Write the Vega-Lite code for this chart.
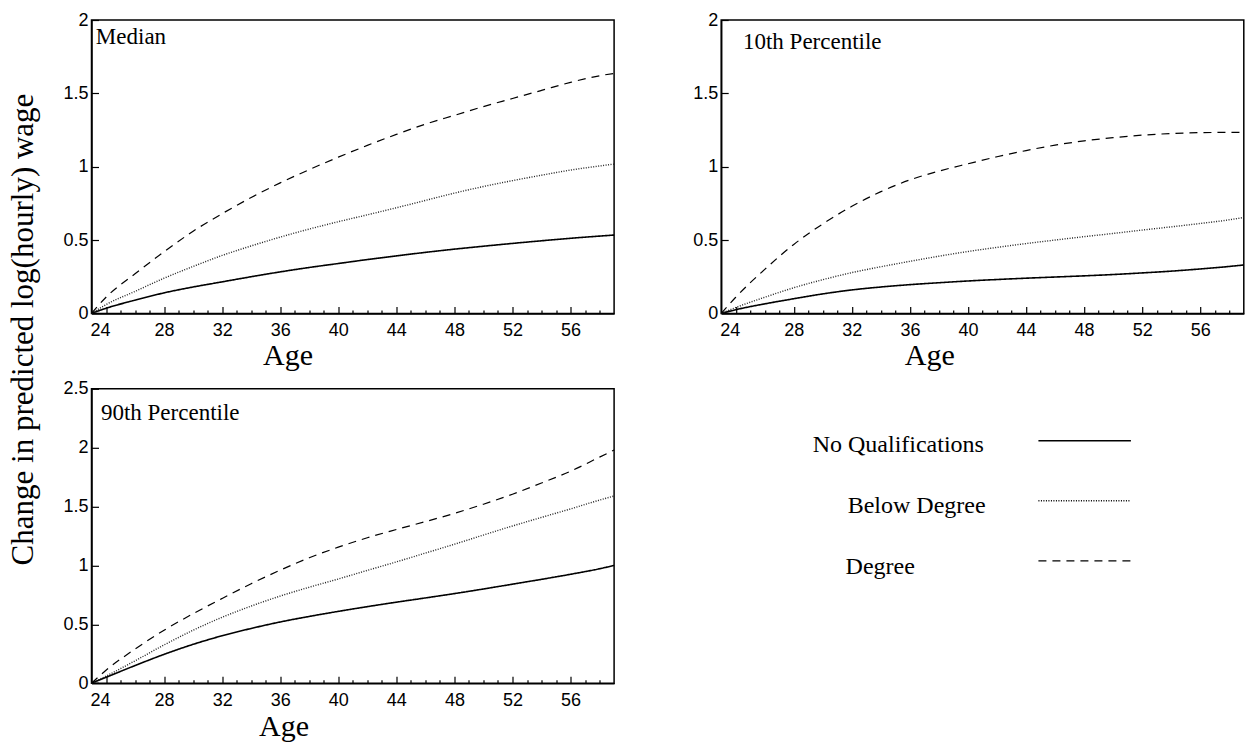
{
  "$schema": "https://vega.github.io/schema/vega-lite/v6.json",
  "background": "white",
  "padding": {"left": 6.5, "top": 10, "right": 5, "bottom": 5},
  "columns": 2,
  "spacing": {"row": 74.8, "column": 106.7},
  "bounds": "flush",
  "config": {
    "view": {"stroke": "black", "strokeWidth": 1.5},
    "axis": {
      "grid": false,
      "domainColor": "black",
      "domainWidth": 1.5,
      "tickColor": "black",
      "tickWidth": 1.2,
      "labelFont": "Liberation Sans",
      "labelFontSize": 18,
      "labelColor": "black",
      "titleFont": "Liberation Serif",
      "titleFontWeight": "normal",
      "titleColor": "black"
    }
  },
  "datasets": {
    "curves": [
      {"panel": "Median", "series": "No Qualifications", "age": 23, "change": 0},
      {"panel": "Median", "series": "No Qualifications", "age": 24, "change": 0.035},
      {"panel": "Median", "series": "No Qualifications", "age": 26, "change": 0.09},
      {"panel": "Median", "series": "No Qualifications", "age": 28, "change": 0.14},
      {"panel": "Median", "series": "No Qualifications", "age": 30, "change": 0.18},
      {"panel": "Median", "series": "No Qualifications", "age": 32, "change": 0.215},
      {"panel": "Median", "series": "No Qualifications", "age": 34, "change": 0.25},
      {"panel": "Median", "series": "No Qualifications", "age": 36, "change": 0.283},
      {"panel": "Median", "series": "No Qualifications", "age": 38, "change": 0.313},
      {"panel": "Median", "series": "No Qualifications", "age": 40, "change": 0.34},
      {"panel": "Median", "series": "No Qualifications", "age": 42, "change": 0.367},
      {"panel": "Median", "series": "No Qualifications", "age": 44, "change": 0.392},
      {"panel": "Median", "series": "No Qualifications", "age": 46, "change": 0.416},
      {"panel": "Median", "series": "No Qualifications", "age": 48, "change": 0.438},
      {"panel": "Median", "series": "No Qualifications", "age": 50, "change": 0.458},
      {"panel": "Median", "series": "No Qualifications", "age": 52, "change": 0.477},
      {"panel": "Median", "series": "No Qualifications", "age": 54, "change": 0.495},
      {"panel": "Median", "series": "No Qualifications", "age": 56, "change": 0.512},
      {"panel": "Median", "series": "No Qualifications", "age": 58, "change": 0.527},
      {"panel": "Median", "series": "No Qualifications", "age": 59, "change": 0.534},
      {"panel": "Median", "series": "Below Degree", "age": 23, "change": 0},
      {"panel": "Median", "series": "Below Degree", "age": 24, "change": 0.06},
      {"panel": "Median", "series": "Below Degree", "age": 26, "change": 0.15},
      {"panel": "Median", "series": "Below Degree", "age": 28, "change": 0.24},
      {"panel": "Median", "series": "Below Degree", "age": 30, "change": 0.32},
      {"panel": "Median", "series": "Below Degree", "age": 32, "change": 0.395},
      {"panel": "Median", "series": "Below Degree", "age": 34, "change": 0.46},
      {"panel": "Median", "series": "Below Degree", "age": 36, "change": 0.52},
      {"panel": "Median", "series": "Below Degree", "age": 38, "change": 0.575},
      {"panel": "Median", "series": "Below Degree", "age": 40, "change": 0.625},
      {"panel": "Median", "series": "Below Degree", "age": 42, "change": 0.672},
      {"panel": "Median", "series": "Below Degree", "age": 44, "change": 0.72},
      {"panel": "Median", "series": "Below Degree", "age": 46, "change": 0.77},
      {"panel": "Median", "series": "Below Degree", "age": 48, "change": 0.82},
      {"panel": "Median", "series": "Below Degree", "age": 50, "change": 0.865},
      {"panel": "Median", "series": "Below Degree", "age": 52, "change": 0.905},
      {"panel": "Median", "series": "Below Degree", "age": 54, "change": 0.942},
      {"panel": "Median", "series": "Below Degree", "age": 56, "change": 0.977},
      {"panel": "Median", "series": "Below Degree", "age": 58, "change": 1.005},
      {"panel": "Median", "series": "Below Degree", "age": 59, "change": 1.018},
      {"panel": "Median", "series": "Degree", "age": 23, "change": 0},
      {"panel": "Median", "series": "Degree", "age": 24, "change": 0.11},
      {"panel": "Median", "series": "Degree", "age": 26, "change": 0.27},
      {"panel": "Median", "series": "Degree", "age": 28, "change": 0.42},
      {"panel": "Median", "series": "Degree", "age": 30, "change": 0.56},
      {"panel": "Median", "series": "Degree", "age": 32, "change": 0.68},
      {"panel": "Median", "series": "Degree", "age": 34, "change": 0.79},
      {"panel": "Median", "series": "Degree", "age": 36, "change": 0.89},
      {"panel": "Median", "series": "Degree", "age": 38, "change": 0.98},
      {"panel": "Median", "series": "Degree", "age": 40, "change": 1.065},
      {"panel": "Median", "series": "Degree", "age": 42, "change": 1.145},
      {"panel": "Median", "series": "Degree", "age": 44, "change": 1.22},
      {"panel": "Median", "series": "Degree", "age": 46, "change": 1.29},
      {"panel": "Median", "series": "Degree", "age": 48, "change": 1.35},
      {"panel": "Median", "series": "Degree", "age": 50, "change": 1.41},
      {"panel": "Median", "series": "Degree", "age": 52, "change": 1.465},
      {"panel": "Median", "series": "Degree", "age": 54, "change": 1.52},
      {"panel": "Median", "series": "Degree", "age": 56, "change": 1.575},
      {"panel": "Median", "series": "Degree", "age": 58, "change": 1.62},
      {"panel": "Median", "series": "Degree", "age": 59, "change": 1.636},
      {"panel": "10th Percentile", "series": "No Qualifications", "age": 23, "change": 0},
      {"panel": "10th Percentile", "series": "No Qualifications", "age": 24, "change": 0.025},
      {"panel": "10th Percentile", "series": "No Qualifications", "age": 26, "change": 0.065},
      {"panel": "10th Percentile", "series": "No Qualifications", "age": 28, "change": 0.1},
      {"panel": "10th Percentile", "series": "No Qualifications", "age": 30, "change": 0.133},
      {"panel": "10th Percentile", "series": "No Qualifications", "age": 32, "change": 0.16},
      {"panel": "10th Percentile", "series": "No Qualifications", "age": 34, "change": 0.18},
      {"panel": "10th Percentile", "series": "No Qualifications", "age": 36, "change": 0.196},
      {"panel": "10th Percentile", "series": "No Qualifications", "age": 38, "change": 0.209},
      {"panel": "10th Percentile", "series": "No Qualifications", "age": 40, "change": 0.221},
      {"panel": "10th Percentile", "series": "No Qualifications", "age": 42, "change": 0.231},
      {"panel": "10th Percentile", "series": "No Qualifications", "age": 44, "change": 0.24},
      {"panel": "10th Percentile", "series": "No Qualifications", "age": 46, "change": 0.248},
      {"panel": "10th Percentile", "series": "No Qualifications", "age": 48, "change": 0.256},
      {"panel": "10th Percentile", "series": "No Qualifications", "age": 50, "change": 0.265},
      {"panel": "10th Percentile", "series": "No Qualifications", "age": 52, "change": 0.276},
      {"panel": "10th Percentile", "series": "No Qualifications", "age": 54, "change": 0.288},
      {"panel": "10th Percentile", "series": "No Qualifications", "age": 56, "change": 0.303},
      {"panel": "10th Percentile", "series": "No Qualifications", "age": 58, "change": 0.32},
      {"panel": "10th Percentile", "series": "No Qualifications", "age": 59, "change": 0.33},
      {"panel": "10th Percentile", "series": "Below Degree", "age": 23, "change": 0},
      {"panel": "10th Percentile", "series": "Below Degree", "age": 24, "change": 0.04},
      {"panel": "10th Percentile", "series": "Below Degree", "age": 26, "change": 0.11},
      {"panel": "10th Percentile", "series": "Below Degree", "age": 28, "change": 0.175},
      {"panel": "10th Percentile", "series": "Below Degree", "age": 30, "change": 0.23},
      {"panel": "10th Percentile", "series": "Below Degree", "age": 32, "change": 0.278},
      {"panel": "10th Percentile", "series": "Below Degree", "age": 34, "change": 0.318},
      {"panel": "10th Percentile", "series": "Below Degree", "age": 36, "change": 0.355},
      {"panel": "10th Percentile", "series": "Below Degree", "age": 38, "change": 0.39},
      {"panel": "10th Percentile", "series": "Below Degree", "age": 40, "change": 0.422},
      {"panel": "10th Percentile", "series": "Below Degree", "age": 42, "change": 0.45},
      {"panel": "10th Percentile", "series": "Below Degree", "age": 44, "change": 0.476},
      {"panel": "10th Percentile", "series": "Below Degree", "age": 46, "change": 0.5},
      {"panel": "10th Percentile", "series": "Below Degree", "age": 48, "change": 0.523},
      {"panel": "10th Percentile", "series": "Below Degree", "age": 50, "change": 0.545},
      {"panel": "10th Percentile", "series": "Below Degree", "age": 52, "change": 0.568},
      {"panel": "10th Percentile", "series": "Below Degree", "age": 54, "change": 0.59},
      {"panel": "10th Percentile", "series": "Below Degree", "age": 56, "change": 0.613},
      {"panel": "10th Percentile", "series": "Below Degree", "age": 58, "change": 0.638},
      {"panel": "10th Percentile", "series": "Below Degree", "age": 59, "change": 0.654},
      {"panel": "10th Percentile", "series": "Degree", "age": 23, "change": 0},
      {"panel": "10th Percentile", "series": "Degree", "age": 24, "change": 0.11},
      {"panel": "10th Percentile", "series": "Degree", "age": 26, "change": 0.3},
      {"panel": "10th Percentile", "series": "Degree", "age": 28, "change": 0.47},
      {"panel": "10th Percentile", "series": "Degree", "age": 30, "change": 0.61},
      {"panel": "10th Percentile", "series": "Degree", "age": 32, "change": 0.73},
      {"panel": "10th Percentile", "series": "Degree", "age": 34, "change": 0.83},
      {"panel": "10th Percentile", "series": "Degree", "age": 36, "change": 0.91},
      {"panel": "10th Percentile", "series": "Degree", "age": 38, "change": 0.97},
      {"panel": "10th Percentile", "series": "Degree", "age": 40, "change": 1.02},
      {"panel": "10th Percentile", "series": "Degree", "age": 42, "change": 1.068},
      {"panel": "10th Percentile", "series": "Degree", "age": 44, "change": 1.11},
      {"panel": "10th Percentile", "series": "Degree", "age": 46, "change": 1.147},
      {"panel": "10th Percentile", "series": "Degree", "age": 48, "change": 1.176},
      {"panel": "10th Percentile", "series": "Degree", "age": 50, "change": 1.198},
      {"panel": "10th Percentile", "series": "Degree", "age": 52, "change": 1.215},
      {"panel": "10th Percentile", "series": "Degree", "age": 54, "change": 1.226},
      {"panel": "10th Percentile", "series": "Degree", "age": 56, "change": 1.232},
      {"panel": "10th Percentile", "series": "Degree", "age": 58, "change": 1.234},
      {"panel": "10th Percentile", "series": "Degree", "age": 59, "change": 1.234},
      {"panel": "90th Percentile", "series": "No Qualifications", "age": 23, "change": 0},
      {"panel": "90th Percentile", "series": "No Qualifications", "age": 24, "change": 0.05},
      {"panel": "90th Percentile", "series": "No Qualifications", "age": 26, "change": 0.15},
      {"panel": "90th Percentile", "series": "No Qualifications", "age": 28, "change": 0.245},
      {"panel": "90th Percentile", "series": "No Qualifications", "age": 30, "change": 0.33},
      {"panel": "90th Percentile", "series": "No Qualifications", "age": 32, "change": 0.403},
      {"panel": "90th Percentile", "series": "No Qualifications", "age": 34, "change": 0.465},
      {"panel": "90th Percentile", "series": "No Qualifications", "age": 36, "change": 0.52},
      {"panel": "90th Percentile", "series": "No Qualifications", "age": 38, "change": 0.567},
      {"panel": "90th Percentile", "series": "No Qualifications", "age": 40, "change": 0.61},
      {"panel": "90th Percentile", "series": "No Qualifications", "age": 42, "change": 0.65},
      {"panel": "90th Percentile", "series": "No Qualifications", "age": 44, "change": 0.688},
      {"panel": "90th Percentile", "series": "No Qualifications", "age": 46, "change": 0.724},
      {"panel": "90th Percentile", "series": "No Qualifications", "age": 48, "change": 0.761},
      {"panel": "90th Percentile", "series": "No Qualifications", "age": 50, "change": 0.8},
      {"panel": "90th Percentile", "series": "No Qualifications", "age": 52, "change": 0.841},
      {"panel": "90th Percentile", "series": "No Qualifications", "age": 54, "change": 0.882},
      {"panel": "90th Percentile", "series": "No Qualifications", "age": 56, "change": 0.925},
      {"panel": "90th Percentile", "series": "No Qualifications", "age": 58, "change": 0.972},
      {"panel": "90th Percentile", "series": "No Qualifications", "age": 59, "change": 1.0},
      {"panel": "90th Percentile", "series": "Below Degree", "age": 23, "change": 0},
      {"panel": "90th Percentile", "series": "Below Degree", "age": 24, "change": 0.06},
      {"panel": "90th Percentile", "series": "Below Degree", "age": 26, "change": 0.19},
      {"panel": "90th Percentile", "series": "Below Degree", "age": 28, "change": 0.325},
      {"panel": "90th Percentile", "series": "Below Degree", "age": 30, "change": 0.45},
      {"panel": "90th Percentile", "series": "Below Degree", "age": 32, "change": 0.56},
      {"panel": "90th Percentile", "series": "Below Degree", "age": 34, "change": 0.655},
      {"panel": "90th Percentile", "series": "Below Degree", "age": 36, "change": 0.74},
      {"panel": "90th Percentile", "series": "Below Degree", "age": 38, "change": 0.815},
      {"panel": "90th Percentile", "series": "Below Degree", "age": 40, "change": 0.885},
      {"panel": "90th Percentile", "series": "Below Degree", "age": 42, "change": 0.958},
      {"panel": "90th Percentile", "series": "Below Degree", "age": 44, "change": 1.03},
      {"panel": "90th Percentile", "series": "Below Degree", "age": 46, "change": 1.105},
      {"panel": "90th Percentile", "series": "Below Degree", "age": 48, "change": 1.18},
      {"panel": "90th Percentile", "series": "Below Degree", "age": 50, "change": 1.258},
      {"panel": "90th Percentile", "series": "Below Degree", "age": 52, "change": 1.335},
      {"panel": "90th Percentile", "series": "Below Degree", "age": 54, "change": 1.408},
      {"panel": "90th Percentile", "series": "Below Degree", "age": 56, "change": 1.48},
      {"panel": "90th Percentile", "series": "Below Degree", "age": 58, "change": 1.555},
      {"panel": "90th Percentile", "series": "Below Degree", "age": 59, "change": 1.59},
      {"panel": "90th Percentile", "series": "Degree", "age": 23, "change": 0},
      {"panel": "90th Percentile", "series": "Degree", "age": 24, "change": 0.11},
      {"panel": "90th Percentile", "series": "Degree", "age": 26, "change": 0.29},
      {"panel": "90th Percentile", "series": "Degree", "age": 28, "change": 0.45},
      {"panel": "90th Percentile", "series": "Degree", "age": 30, "change": 0.59},
      {"panel": "90th Percentile", "series": "Degree", "age": 32, "change": 0.72},
      {"panel": "90th Percentile", "series": "Degree", "age": 34, "change": 0.845},
      {"panel": "90th Percentile", "series": "Degree", "age": 36, "change": 0.96},
      {"panel": "90th Percentile", "series": "Degree", "age": 38, "change": 1.065},
      {"panel": "90th Percentile", "series": "Degree", "age": 40, "change": 1.155},
      {"panel": "90th Percentile", "series": "Degree", "age": 42, "change": 1.235},
      {"panel": "90th Percentile", "series": "Degree", "age": 44, "change": 1.305},
      {"panel": "90th Percentile", "series": "Degree", "age": 46, "change": 1.372},
      {"panel": "90th Percentile", "series": "Degree", "age": 48, "change": 1.442},
      {"panel": "90th Percentile", "series": "Degree", "age": 50, "change": 1.52},
      {"panel": "90th Percentile", "series": "Degree", "age": 52, "change": 1.605},
      {"panel": "90th Percentile", "series": "Degree", "age": 54, "change": 1.7},
      {"panel": "90th Percentile", "series": "Degree", "age": 56, "change": 1.8},
      {"panel": "90th Percentile", "series": "Degree", "age": 58, "change": 1.92},
      {"panel": "90th Percentile", "series": "Degree", "age": 59, "change": 1.98}
    ],
    "legendRows": [
      {"series": "No Qualifications"},
      {"series": "Below Degree"},
      {"series": "Degree"}
    ]
  },
  "concat": [
    {
      "width": 522.6,
      "height": 293.4,
      "resolve": {"axis": {"x": "independent"}},
      "layer": [
        {
          "data": {"name": "curves"},
          "transform": [{"filter": "datum.panel === 'Median'"}],
          "mark": {"type": "line", "interpolate": "monotone"},
          "encoding": {
            "x": {
              "field": "age", "type": "quantitative",
              "scale": {"domain": [23, 59], "nice": false, "zero": false},
              "axis": {
                "orient": "bottom",
                "values": [24, 28, 32, 36, 40, 44, 48, 52, 56],
                "format": "d",
                "tickSize": -7,
                "labelOffset": {"condition": {"test": "datum.value === 24", "value": -6}, "value": 0},
                "labelPadding": 15,
                "labelFlush": false,
                "labelOverlap": false,
                "title": "Age",
                "titleFontSize": 30,
                "titleX": 196,
                "titleY": 51,
                "titleAlign": "center",
                "titleBaseline": "alphabetic"
              }
            },
            "y": {
              "field": "change", "type": "quantitative",
              "scale": {"domain": [0, 2], "nice": false},
              "axis": {
                "values": [0, 0.25, 0.5, 0.75, 1, 1.25, 1.5, 1.75, 2],
                "tickSize": {"condition": {"test": "datum.value % 0.5 === 0", "value": -7}, "value": -3.5},
                "labelExpr": "datum.value % 0.5 === 0 ? '' + datum.value : ''",
                "labelPadding": 10.5,
                "labelFlush": false,
                "labelOverlap": false,
                "title": "Change in predicted log(hourly) wage",
                "titleFontSize": 31,
                "titleAngle": -90,
                "titleX": -59,
                "titleY": 309,
                "titleAlign": "center",
                "titleBaseline": "alphabetic"
              }
            },
            "strokeDash": {
              "field": "series", "type": "nominal",
              "scale": {"domain": ["No Qualifications", "Below Degree", "Degree"], "range": [[1, 0], [1, 1.5], [8, 6]]},
              "legend": null
            },
            "color": {
              "field": "series", "type": "nominal",
              "scale": {"domain": ["No Qualifications", "Below Degree", "Degree"], "range": ["black", "#222222", "black"]},
              "legend": null
            },
            "strokeWidth": {
              "field": "series", "type": "nominal",
              "scale": {"domain": ["No Qualifications", "Below Degree", "Degree"], "range": [1.6, 1.2, 1.6]},
              "legend": null
            }
          }
        },
        {
          "data": {"values": [{"label": "Median"}]},
          "mark": {"type": "text", "font": "Liberation Serif", "fontSize": 23, "align": "left", "baseline": "alphabetic", "color": "black"},
          "encoding": {
            "x": {
              "datum": 23.3, "type": "quantitative",
              "axis": {"orient": "bottom", "values": [25, 26, 27, 29, 30, 31, 33, 34, 35, 37, 38, 39, 41, 42, 43, 45, 46, 47, 49, 50, 51, 53, 54, 55, 57, 58], "tickSize": -3.5, "labels": false, "domain": false, "title": null}
            },
            "y": {"datum": 1.836, "type": "quantitative"},
            "text": {"field": "label"}
          }
        }
      ]
    },
    {
      "width": 522.6,
      "height": 293.4,
      "resolve": {"axis": {"x": "independent"}},
      "layer": [
        {
          "data": {"name": "curves"},
          "transform": [{"filter": "datum.panel === '10th Percentile'"}],
          "mark": {"type": "line", "interpolate": "monotone"},
          "encoding": {
            "x": {
              "field": "age", "type": "quantitative",
              "scale": {"domain": [23, 59], "nice": false, "zero": false},
              "axis": {
                "orient": "bottom",
                "values": [24, 28, 32, 36, 40, 44, 48, 52, 56],
                "format": "d",
                "tickSize": -7,
                "labelOffset": {"condition": {"test": "datum.value === 24", "value": -6}, "value": 0},
                "labelPadding": 15,
                "labelFlush": false,
                "labelOverlap": false,
                "title": "Age",
                "titleFontSize": 30,
                "titleX": 208,
                "titleY": 51,
                "titleAlign": "center",
                "titleBaseline": "alphabetic"
              }
            },
            "y": {
              "field": "change", "type": "quantitative",
              "scale": {"domain": [0, 2], "nice": false},
              "axis": {
                "values": [0, 0.25, 0.5, 0.75, 1, 1.25, 1.5, 1.75, 2],
                "tickSize": {"condition": {"test": "datum.value % 0.5 === 0", "value": -7}, "value": -3.5},
                "labelExpr": "datum.value % 0.5 === 0 ? '' + datum.value : ''",
                "labelPadding": 10.5,
                "labelFlush": false,
                "labelOverlap": false,
                "title": null
              }
            },
            "strokeDash": {
              "field": "series", "type": "nominal",
              "scale": {"domain": ["No Qualifications", "Below Degree", "Degree"], "range": [[1, 0], [1, 1.5], [8, 6]]},
              "legend": null
            },
            "color": {
              "field": "series", "type": "nominal",
              "scale": {"domain": ["No Qualifications", "Below Degree", "Degree"], "range": ["black", "#8a8a8a", "black"]},
              "legend": null
            },
            "strokeWidth": {
              "field": "series", "type": "nominal",
              "scale": {"domain": ["No Qualifications", "Below Degree", "Degree"], "range": [1.6, 1.2, 1.6]},
              "legend": null
            }
          }
        },
        {
          "data": {"values": [{"label": "10th Percentile"}]},
          "mark": {"type": "text", "font": "Liberation Serif", "fontSize": 23, "align": "left", "baseline": "alphabetic", "color": "black"},
          "encoding": {
            "x": {
              "datum": 24.5, "type": "quantitative",
              "axis": {"orient": "bottom", "values": [25, 26, 27, 29, 30, 31, 33, 34, 35, 37, 38, 39, 41, 42, 43, 45, 46, 47, 49, 50, 51, 53, 54, 55, 57, 58], "tickSize": -3.5, "labels": false, "domain": false, "title": null}
            },
            "y": {"datum": 1.802, "type": "quantitative"},
            "text": {"field": "label"}
          }
        }
      ]
    },
    {
      "width": 522.6,
      "height": 294.4,
      "resolve": {"axis": {"x": "independent"}},
      "layer": [
        {
          "data": {"name": "curves"},
          "transform": [{"filter": "datum.panel === '90th Percentile'"}],
          "mark": {"type": "line", "interpolate": "monotone"},
          "encoding": {
            "x": {
              "field": "age", "type": "quantitative",
              "scale": {"domain": [23, 59], "nice": false, "zero": false},
              "axis": {
                "orient": "bottom",
                "values": [24, 28, 32, 36, 40, 44, 48, 52, 56],
                "format": "d",
                "tickSize": -7,
                "labelOffset": {"condition": {"test": "datum.value === 24", "value": -6}, "value": 0},
                "labelPadding": 15,
                "labelFlush": false,
                "labelOverlap": false,
                "title": "Age",
                "titleFontSize": 30,
                "titleX": 192,
                "titleY": 52,
                "titleAlign": "center",
                "titleBaseline": "alphabetic"
              }
            },
            "y": {
              "field": "change", "type": "quantitative",
              "scale": {"domain": [0, 2.5], "nice": false},
              "axis": {
                "values": [0, 0.25, 0.5, 0.75, 1, 1.25, 1.5, 1.75, 2, 2.25, 2.5],
                "tickSize": {"condition": {"test": "datum.value % 0.5 === 0", "value": -7}, "value": -3.5},
                "labelExpr": "datum.value % 0.5 === 0 ? '' + datum.value : ''",
                "labelPadding": 10.5,
                "labelFlush": false,
                "labelOverlap": false,
                "title": null
              }
            },
            "strokeDash": {
              "field": "series", "type": "nominal",
              "scale": {"domain": ["No Qualifications", "Below Degree", "Degree"], "range": [[1, 0], [1, 1.5], [8, 6]]},
              "legend": null
            },
            "color": {
              "field": "series", "type": "nominal",
              "scale": {"domain": ["No Qualifications", "Below Degree", "Degree"], "range": ["black", "#8a8a8a", "black"]},
              "legend": null
            },
            "strokeWidth": {
              "field": "series", "type": "nominal",
              "scale": {"domain": ["No Qualifications", "Below Degree", "Degree"], "range": [1.6, 1.2, 1.6]},
              "legend": null
            }
          }
        },
        {
          "data": {"values": [{"label": "90th Percentile"}]},
          "mark": {"type": "text", "font": "Liberation Serif", "fontSize": 23, "align": "left", "baseline": "alphabetic", "color": "black"},
          "encoding": {
            "x": {
              "datum": 23.65, "type": "quantitative",
              "axis": {"orient": "bottom", "values": [25, 26, 27, 29, 30, 31, 33, 34, 35, 37, 38, 39, 41, 42, 43, 45, 46, 47, 49, 50, 51, 53, 54, 55, 57, 58], "tickSize": -3.5, "labels": false, "domain": false, "title": null}
            },
            "y": {"datum": 2.231, "type": "quantitative"},
            "text": {"field": "label"}
          }
        }
      ]
    },
    {
      "width": 522.6,
      "height": 294.4,
      "view": {"stroke": null},
      "data": {"name": "legendRows"},
      "layer": [
        {
          "mark": {"type": "rule", "color": "black"},
          "encoding": {
            "x": {"datum": 0.607, "type": "quantitative", "scale": {"domain": [0, 1], "nice": false, "zero": false}, "axis": null},
            "x2": {"datum": 0.784},
            "y": {
              "field": "series", "type": "nominal",
              "scale": {"type": "point", "domain": ["No Qualifications", "Below Degree", "Degree"], "range": [52, 172], "padding": 0},
              "axis": null
            },
            "strokeDash": {
              "field": "series", "type": "nominal",
              "scale": {"domain": ["No Qualifications", "Below Degree", "Degree"], "range": [[1, 0], [1, 1.5], [8, 6]]},
              "legend": null
            },
            "strokeWidth": {
              "field": "series", "type": "nominal",
              "scale": {"domain": ["No Qualifications", "Below Degree", "Degree"], "range": [2, 1.4, 1.6]},
              "legend": null
            }
          }
        },
        {
          "transform": [{"filter": "datum.series === 'No Qualifications'"}],
          "mark": {"type": "text", "font": "Liberation Serif", "fontSize": 24, "align": "left", "baseline": "alphabetic", "dy": 11, "color": "black"},
          "encoding": {
            "x": {"datum": 0.175, "type": "quantitative"},
            "y": {"field": "series", "type": "nominal"},
            "text": {"field": "series"}
          }
        },
        {
          "transform": [{"filter": "datum.series === 'Below Degree'"}],
          "mark": {"type": "text", "font": "Liberation Serif", "fontSize": 24, "align": "left", "baseline": "alphabetic", "dy": 12.5, "color": "black"},
          "encoding": {
            "x": {"datum": 0.242, "type": "quantitative"},
            "y": {"field": "series", "type": "nominal"},
            "text": {"field": "series"}
          }
        },
        {
          "transform": [{"filter": "datum.series === 'Degree'"}],
          "mark": {"type": "text", "font": "Liberation Serif", "fontSize": 24, "align": "left", "baseline": "alphabetic", "dy": 13, "color": "black"},
          "encoding": {
            "x": {"datum": 0.238, "type": "quantitative"},
            "y": {"field": "series", "type": "nominal"},
            "text": {"field": "series"}
          }
        }
      ]
    }
  ]
}
